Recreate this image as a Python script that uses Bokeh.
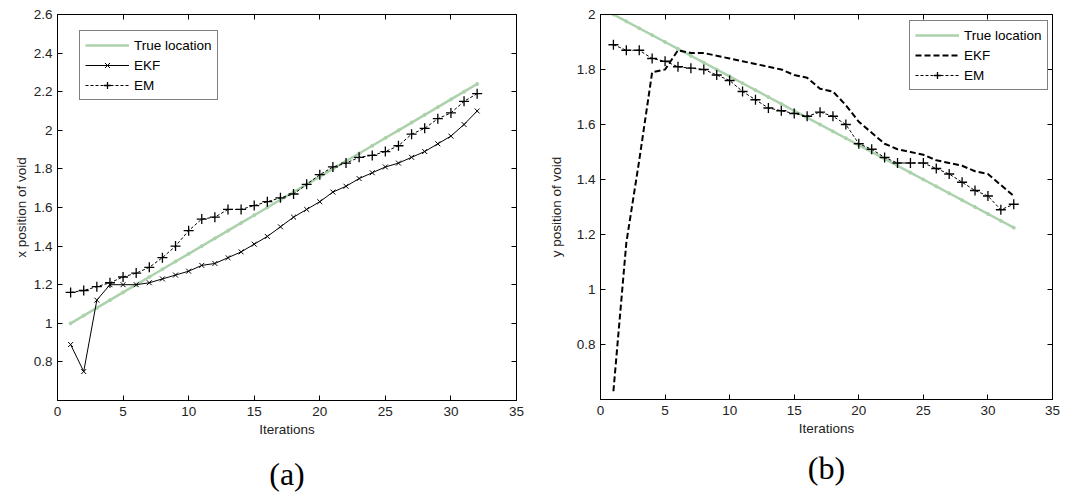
from bokeh.plotting import figure
from bokeh.layouts import row
from bokeh.models import (Range1d, LinearAxis, FixedTicker, Legend, LegendItem,
                          Title, CustomLabelingPolicy)
from bokeh.embed import file_html
from bokeh.resources import INLINE

# ---- data -------------------------------------------------------------
iterations = list(range(1, 33))

# (a) x position of the void
x_true = [1.00, 1.04, 1.08, 1.12, 1.16, 1.20, 1.24, 1.28, 1.32, 1.36, 1.40,
          1.44, 1.48, 1.52, 1.56, 1.60, 1.64, 1.68, 1.72, 1.76, 1.80, 1.84,
          1.88, 1.92, 1.96, 2.00, 2.04, 2.08, 2.12, 2.16, 2.20, 2.24]
x_ekf = [0.89, 0.75, 1.12, 1.20, 1.20, 1.20, 1.21, 1.23, 1.25, 1.27, 1.30,
         1.31, 1.34, 1.37, 1.41, 1.45, 1.50, 1.55, 1.59, 1.63, 1.68, 1.71,
         1.75, 1.78, 1.81, 1.83, 1.86, 1.89, 1.93, 1.97, 2.03, 2.10]
x_em = [1.16, 1.17, 1.19, 1.21, 1.24, 1.26, 1.29, 1.34, 1.40, 1.48, 1.54,
        1.55, 1.59, 1.59, 1.61, 1.63, 1.65, 1.67, 1.72, 1.77, 1.81, 1.83,
        1.86, 1.87, 1.89, 1.92, 1.98, 2.01, 2.06, 2.09, 2.15, 2.19]

# (b) y position of the void
y_true = [2.000, 1.975, 1.950, 1.925, 1.900, 1.875, 1.850, 1.825, 1.800,
          1.775, 1.750, 1.725, 1.700, 1.675, 1.650, 1.625, 1.600, 1.575,
          1.550, 1.525, 1.500, 1.475, 1.450, 1.425, 1.400, 1.375, 1.350,
          1.325, 1.300, 1.275, 1.250, 1.225]
y_ekf = [0.63, 1.17, 1.47, 1.79, 1.80, 1.87, 1.86, 1.86, 1.85, 1.84, 1.83,
         1.82, 1.81, 1.80, 1.78, 1.77, 1.73, 1.72, 1.67, 1.61, 1.57, 1.53,
         1.51, 1.50, 1.49, 1.47, 1.46, 1.45, 1.43, 1.42, 1.38, 1.34]
y_em = [1.89, 1.87, 1.87, 1.84, 1.83, 1.81, 1.805, 1.80, 1.78, 1.76, 1.72,
        1.69, 1.66, 1.65, 1.64, 1.63, 1.645, 1.63, 1.60, 1.53, 1.51, 1.48,
        1.46, 1.46, 1.46, 1.44, 1.42, 1.39, 1.36, 1.34, 1.29, 1.31]

x_ticks = [0, 5, 10, 15, 20, 25, 30, 35]
a_y_ticks = [0.8, 1.0, 1.2, 1.4, 1.6, 1.8, 2.0, 2.2, 2.4, 2.6]
b_y_ticks = [0.8, 1.0, 1.2, 1.4, 1.6, 1.8, 2.0]

series_names = ["True location", "EKF", "EM"]
captions = ["(a)", "(b)"]

# ---- styling ----------------------------------------------------------
SANS = "Liberation Sans"
SERIF = "Liberation Serif"
TXT = "13.5px"
GREEN = "#acd2ac"


def tick_labels(ticks):
    return {t: f"{t:g}" for t in ticks}


def make_panel(y_range, y_ticks, y_label, caption, frame_w, frame_h,
               b_left, b_right, b_top, b_bottom, ylabel_standoff,
               caption_standoff):
    p = figure(frame_width=frame_w, frame_height=frame_h,
               x_range=Range1d(0, 35), y_range=Range1d(*y_range),
               output_backend="svg", toolbar_location=None,
               min_border_left=b_left, min_border_right=b_right,
               min_border_top=b_top, min_border_bottom=b_bottom,
               background_fill_color="white", border_fill_color="white")
    p.grid.visible = False
    p.outline_line_color = "black"
    p.outline_line_width = 1

    for ax, ticks in ((p.xaxis[0], x_ticks), (p.yaxis[0], y_ticks)):
        ax.ticker = FixedTicker(ticks=ticks)
        ax.major_label_overrides = tick_labels(ticks)
        ax.major_tick_in = 5
        ax.major_tick_out = 0
        ax.minor_tick_line_color = None
        ax.axis_line_color = "black"
        ax.major_tick_line_color = "black"
        ax.major_label_text_font = SANS
        ax.major_label_text_font_size = TXT
        ax.major_label_text_color = "#222222"
        ax.axis_label_text_font = SANS
        ax.axis_label_text_font_size = TXT
        ax.axis_label_text_font_style = "normal"
        ax.axis_label_text_color = "#222222"

    p.xaxis[0].axis_label = "Iterations"
    p.xaxis[0].major_label_standoff = 6
    p.xaxis[0].axis_label_standoff = 3
    p.yaxis[0].axis_label = y_label
    p.yaxis[0].major_label_standoff = 5
    p.yaxis[0].axis_label_standoff = ylabel_standoff

    # tick marks repeated on the top and right edges of the box, unlabeled
    for side, ticks in (("above", x_ticks), ("right", y_ticks)):
        ax = LinearAxis(ticker=FixedTicker(ticks=ticks),
                        major_label_policy=CustomLabelingPolicy(code="return []"),
                        major_label_standoff=0,
                        major_tick_in=5, major_tick_out=0,
                        minor_tick_line_color=None,
                        axis_line_color="black",
                        major_tick_line_color="black")
        p.add_layout(ax, side)

    p.add_layout(Title(text=caption, align="center", text_font=SERIF,
                       text_font_size="32px", text_font_style="normal",
                       text_color="black", standoff=caption_standoff),
                 "below")
    return p


def style_legend(p, items, loc):
    leg = Legend(items=items, location=loc, margin=0, padding=5, spacing=2,
                 glyph_width=44, glyph_height=18, label_standoff=5,
                 label_text_font=SANS, label_text_font_size=TXT,
                 label_text_color="black", border_line_color="black",
                 border_line_width=1, background_fill_color="white",
                 background_fill_alpha=1.0)
    p.add_layout(leg)


# ---- (a) --------------------------------------------------------------
pa = make_panel((0.6, 2.6), a_y_ticks, "x position of void", captions[0],
                459, 386, 57, 24, 14, 94, 2, 28)
a_true_l = pa.line(iterations, x_true, line_color=GREEN, line_width=2.5)
pa.scatter(iterations, x_true, marker="circle", size=3,
           fill_color=GREEN, line_color=GREEN)
a_ekf_l = pa.line(iterations, x_ekf, line_color="black", line_width=1)
a_ekf_m = pa.scatter(iterations, x_ekf, marker="x", size=7,
                     line_color="black", line_width=1)
a_em_l = pa.line(iterations, x_em, line_color="black", line_width=1,
                 line_dash="3 2")
a_em_m = pa.scatter(iterations, x_em, marker="cross", size=10,
                    line_color="black", line_width=1.3)
style_legend(pa, [
    LegendItem(label=series_names[0], renderers=[a_true_l]),
    LegendItem(label=series_names[1], renderers=[a_ekf_l, a_ekf_m]),
    LegendItem(label=series_names[2], renderers=[a_em_l, a_em_m]),
], (22, 300))

# ---- (b) --------------------------------------------------------------
pb = make_panel((0.6, 2.0), b_y_ticks, "y position of void", captions[1],
                452, 385, 60, 37, 12, 97, 10, 18)
b_true_l = pb.line(iterations, y_true, line_color=GREEN, line_width=2.5)
pb.scatter(iterations, y_true, marker="circle", size=3,
           fill_color=GREEN, line_color=GREEN)
b_ekf_l = pb.line(iterations, y_ekf, line_color="black", line_width=2,
                  line_dash="6 3")
b_em_l = pb.line(iterations, y_em, line_color="black", line_width=1,
                 line_dash="3 2")
b_em_m = pb.scatter(iterations, y_em, marker="cross", size=10,
                    line_color="black", line_width=1.3)
style_legend(pb, [
    LegendItem(label=series_names[0], renderers=[b_true_l]),
    LegendItem(label=series_names[1], renderers=[b_ekf_l]),
    LegendItem(label=series_names[2], renderers=[b_em_l, b_em_m]),
], (309, 309))

layout = row(pa, pb, spacing=0)

with open("out.html", "w") as f:
    f.write(file_html(layout, INLINE))
